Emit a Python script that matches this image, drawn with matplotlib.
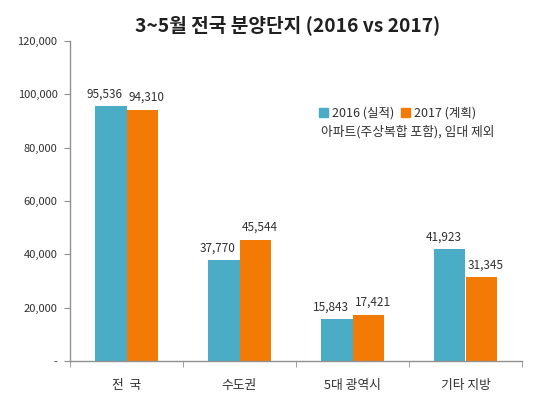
import matplotlib
matplotlib.use("Agg")
import matplotlib.pyplot as plt
from matplotlib.ticker import FuncFormatter, FixedLocator
from matplotlib.patches import Patch
import numpy as np

plt.rcParams['font.family'] = ['Noto Sans CJK KR', 'DejaVu Sans']

categories = ["전  국", "수도권", "5대 광역시", "기타 지방"]
series_2016 = [95536, 37770, 15843, 41923]
series_2017 = [94310, 45544, 17421, 31345]
series_names = ["2016 (실적)", "2017 (계획)"]
title = "3~5월 전국 분양단지 (2016 vs 2017)"
note = "아파트(주상복합 포함), 임대 제외"
yticks = [0, 20000, 40000, 60000, 80000, 100000, 120000]

c_blue = "#4BACC6"
c_orange = "#F47A06"
txt = "#303030"

fig = plt.figure(figsize=(5.4, 3.97), dpi=100)
ax = fig.add_axes([70/540, 1-361/397, (522-70)/540, (361-41)/397])

x = np.arange(len(categories))
w = 0.275
b1 = ax.bar(x - w/2, series_2016, w, color=c_blue)
b2 = ax.bar(x + w/2, series_2017, w, color=c_orange)

for bars, vals, dx in ((b1, series_2016, -4.5), (b2, series_2017, 3.5)):
    for r, v in zip(bars, vals):
        ax.annotate(f"{v:,}", (r.get_x() + r.get_width()/2, v), xytext=(dx, 4),
                    textcoords='offset points', ha='center', va='bottom',
                    fontsize=8.5, color=txt)

ax.set_xlim(-0.5, len(categories) - 0.5)
ax.set_ylim(0, 120000)
ax.set_yticks(yticks)
ax.yaxis.set_major_formatter(FuncFormatter(lambda v, p: "-" if v == 0 else f"{int(v):,}"))
ax.set_xticks(x)
ax.set_xticklabels(categories, fontsize=9.2, color=txt)
ax.xaxis.set_minor_locator(FixedLocator(np.arange(-0.5, len(categories), 1.0)))
ax.tick_params(axis='x', which='major', length=0, pad=13)
ax.tick_params(axis='x', which='minor', length=4, color='#909090', direction='out')
ax.tick_params(axis='y', length=4, color='#909090', labelsize=8, labelcolor=txt, pad=5)

for s in ('top', 'right'):
    ax.spines[s].set_visible(False)
for s in ('left', 'bottom'):
    ax.spines[s].set_color('#909090')
    ax.spines[s].set_linewidth(1)

fig.text(288/540, 1-25/397, title, ha='center', va='center', fontsize=13.8, fontweight='bold', color='#202020')

handles = [Patch(color=c_blue), Patch(color=c_orange)]
fig.legend(handles, series_names, loc='center left', bbox_to_anchor=(319/540, 1-113/397),
           ncol=2, frameon=False, handlelength=0.7, handleheight=0.7, handletextpad=0.3,
           columnspacing=0.6, borderpad=0, borderaxespad=0, fontsize=9, labelcolor=txt)
fig.text(321/540, 1-132/397, note, ha='left', va='center', fontsize=9.2, color=txt)

fig.savefig("out.png", dpi=100)
